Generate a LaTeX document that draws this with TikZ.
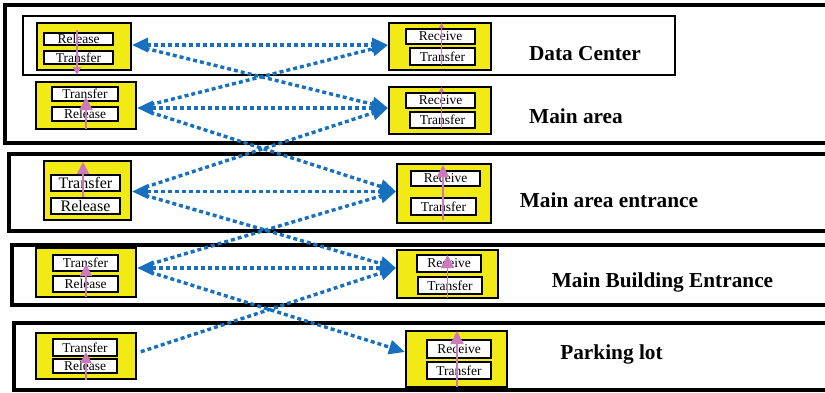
\documentclass[tikz,border=0pt]{standalone}
\usepackage{fontspec}
\setmainfont{Liberation Serif}
\usetikzlibrary{calc,positioning,arrows.meta}
\definecolor{ylw}{RGB}{242,234,20}
\definecolor{blu}{RGB}{22,112,190}
\definecolor{pnk}{RGB}{204,121,190}

\begin{document}
\begin{tikzpicture}[x=1pt, y=-1pt,
 band/.style={draw, line width=4pt},
 ybox/.style={draw, fill=ylw, line width=2pt, inner sep=0pt},
 wbox/.style={draw, fill=white, line width=1.8pt, inner sep=0pt, font=\fontsize{13.5}{13.5}\selectfont},
 ttl/.style={anchor=base, font=\fontsize{21.3}{22}\selectfont\bfseries},
 tri/.tip={Triangle[length=16pt,width=14pt]},
 lnk/.style={draw=blu, line width=3.4pt, dash pattern=on 4pt off 3pt, -tri},
 pk/.style={draw=pnk, line width=1.8pt, -{Triangle[length=#1,width=#1]}}, pk/.default=10pt]
\useasboundingbox (0,0) rectangle (825,392);
% layers
\draw[band] (5,4.7) rectangle (830,143);
\draw[band] (9,153.5) rectangle (830,230.5);
\draw[band] (12,245) rectangle (830,305);
\draw[band] (14,322.5) rectangle (830,389.5);
\draw[line width=2pt] (23,16) rectangle (675,75);

% left side
\node[ybox, minimum width=94pt, minimum height=47pt] (dcL) at (84,46.5) {};
\node[wbox, minimum width=69pt, minimum height=12pt] (dcL1) at (78.5,39) {Release};
\node[wbox, minimum width=69pt, minimum height=13pt] (dcL2) at (78.5,57.5) {Transfer};
\node[ybox, minimum width=100pt, minimum height=47pt] (maL) at (86,105.5) {};
\node[wbox, minimum width=66pt, minimum height=14pt] (maL1) at (85,94) {Transfer};
\node[wbox, minimum width=66pt, minimum height=14pt] (maL2) at (85,114) {Release};
\node[ybox, minimum width=87pt, minimum height=59pt] (maeL) at (87.5,190.5) {};
\node[wbox, minimum width=69pt, minimum height=16pt, font=\fontsize{16}{16}\selectfont] (maeL1) at (85.5,183) {Transfer};
\node[wbox, minimum width=69pt, minimum height=16pt, font=\fontsize{16}{16}\selectfont] (maeL2) at (85.5,206) {Release};
\node[ybox, minimum width=100pt, minimum height=49pt] (mbeL) at (86,272.5) {};
\node[wbox, minimum width=65pt, minimum height=16pt] (mbeL1) at (85.5,263) {Transfer};
\node[wbox, minimum width=65pt, minimum height=16pt] (mbeL2) at (85.5,284) {Release};
\node[ybox, minimum width=100pt, minimum height=46pt] (plL) at (86,356) {};
\node[wbox, minimum width=64pt, minimum height=17pt] (plL1) at (85,347.5) {Transfer};
\node[wbox, minimum width=64pt, minimum height=14pt] (plL2) at (85,366) {Release};

% right side
\node[ybox, minimum width=102pt, minimum height=47pt] (dcR) at (440,46.5) {};
\node[wbox, minimum width=69pt, minimum height=15pt] (dcR1) at (440.5,36.5) {Receive};
\node[wbox, minimum width=65pt, minimum height=17pt] (dcR2) at (442.5,56.5) {Transfer};
\node[ybox, minimum width=102pt, minimum height=47pt] (maR) at (440,110.5) {};
\node[wbox, minimum width=69pt, minimum height=15pt] (maR1) at (440.5,100.5) {Receive};
\node[wbox, minimum width=65pt, minimum height=16pt] (maR2) at (442.5,120) {Transfer};
\node[ybox, minimum width=94pt, minimum height=59pt] (maeR) at (444,193.5) {};
\node[wbox, minimum width=69pt, minimum height=15pt] (maeR1) at (445.5,178.5) {Receive};
\node[wbox, minimum width=65pt, minimum height=17pt] (maeR2) at (443.5,206.5) {Transfer};
\node[ybox, minimum width=101pt, minimum height=48pt] (mbeR) at (447.5,274) {};
\node[wbox, minimum width=64pt, minimum height=17pt] (mbeR1) at (449,263.5) {Receive};
\node[wbox, minimum width=64pt, minimum height=17pt] (mbeR2) at (450,285.5) {Transfer};
\node[ybox, minimum width=101pt, minimum height=56pt] (plR) at (456.5,359) {};
\node[wbox, minimum width=64pt, minimum height=18pt] (plR1) at (459,349) {Receive};
\node[wbox, minimum width=64pt, minimum height=17pt] (plR2) at (459,370.5) {Transfer};

% pink arrows inside the boxes
\foreach \x/\a/\b/\s in {77/30/75/8, 86/129/97/13, 83/197/162/12, 86/297/264/12, 86/380/352/11,
  441.5/65/23/5, 441.5/128/87/5, 443/220/165/12, 447.5/298/255/13, 457/387/331/13}
  {\draw[pk=\s pt] (\x,\a) -- (\x,\b);}

% link ends
\foreach \n/\s in {dcL/1.5, maL/-2.5, maeL/-1, mbeL/4.5, plL/3}
  {\coordinate (\n o) at ([yshift=\s pt]\n.east);}
\foreach \n/\s in {dcR/1.5, maR/2.5, maeR/2, mbeR/6, plR/7}
  {\coordinate (\n i) at ([yshift=\s pt]\n.west);}

% blue links
\foreach \a/\b in {dcL/dcR, maL/maR, maeL/maeR, mbeL/mbeR}
  {\draw[lnk, tri-tri] (\a o) -- (\b i);}
\foreach \a/\b in {dcL/maR, maL/dcR, maL/maeR, maeL/maR, maeL/mbeR, mbeL/maeR, mbeL/plR}
  {\draw[lnk, shorten <=14pt] (\a o) -- (\b i);}
\draw[lnk, shorten <=4pt] (plLo) -- (mbeRi);

% layer names
\node[ttl] (dcT) at (585,60) {Data Center};
\node[ttl] (maT) at (576,123) {Main area};
\node[ttl] (maeT) at (609,207) {Main area entrance};
\node[ttl] (mbeT) at (662.5,287) {Main Building Entrance};
\node[ttl] (plT) at (611.5,359) {Parking lot};
\end{tikzpicture}
\end{document}
